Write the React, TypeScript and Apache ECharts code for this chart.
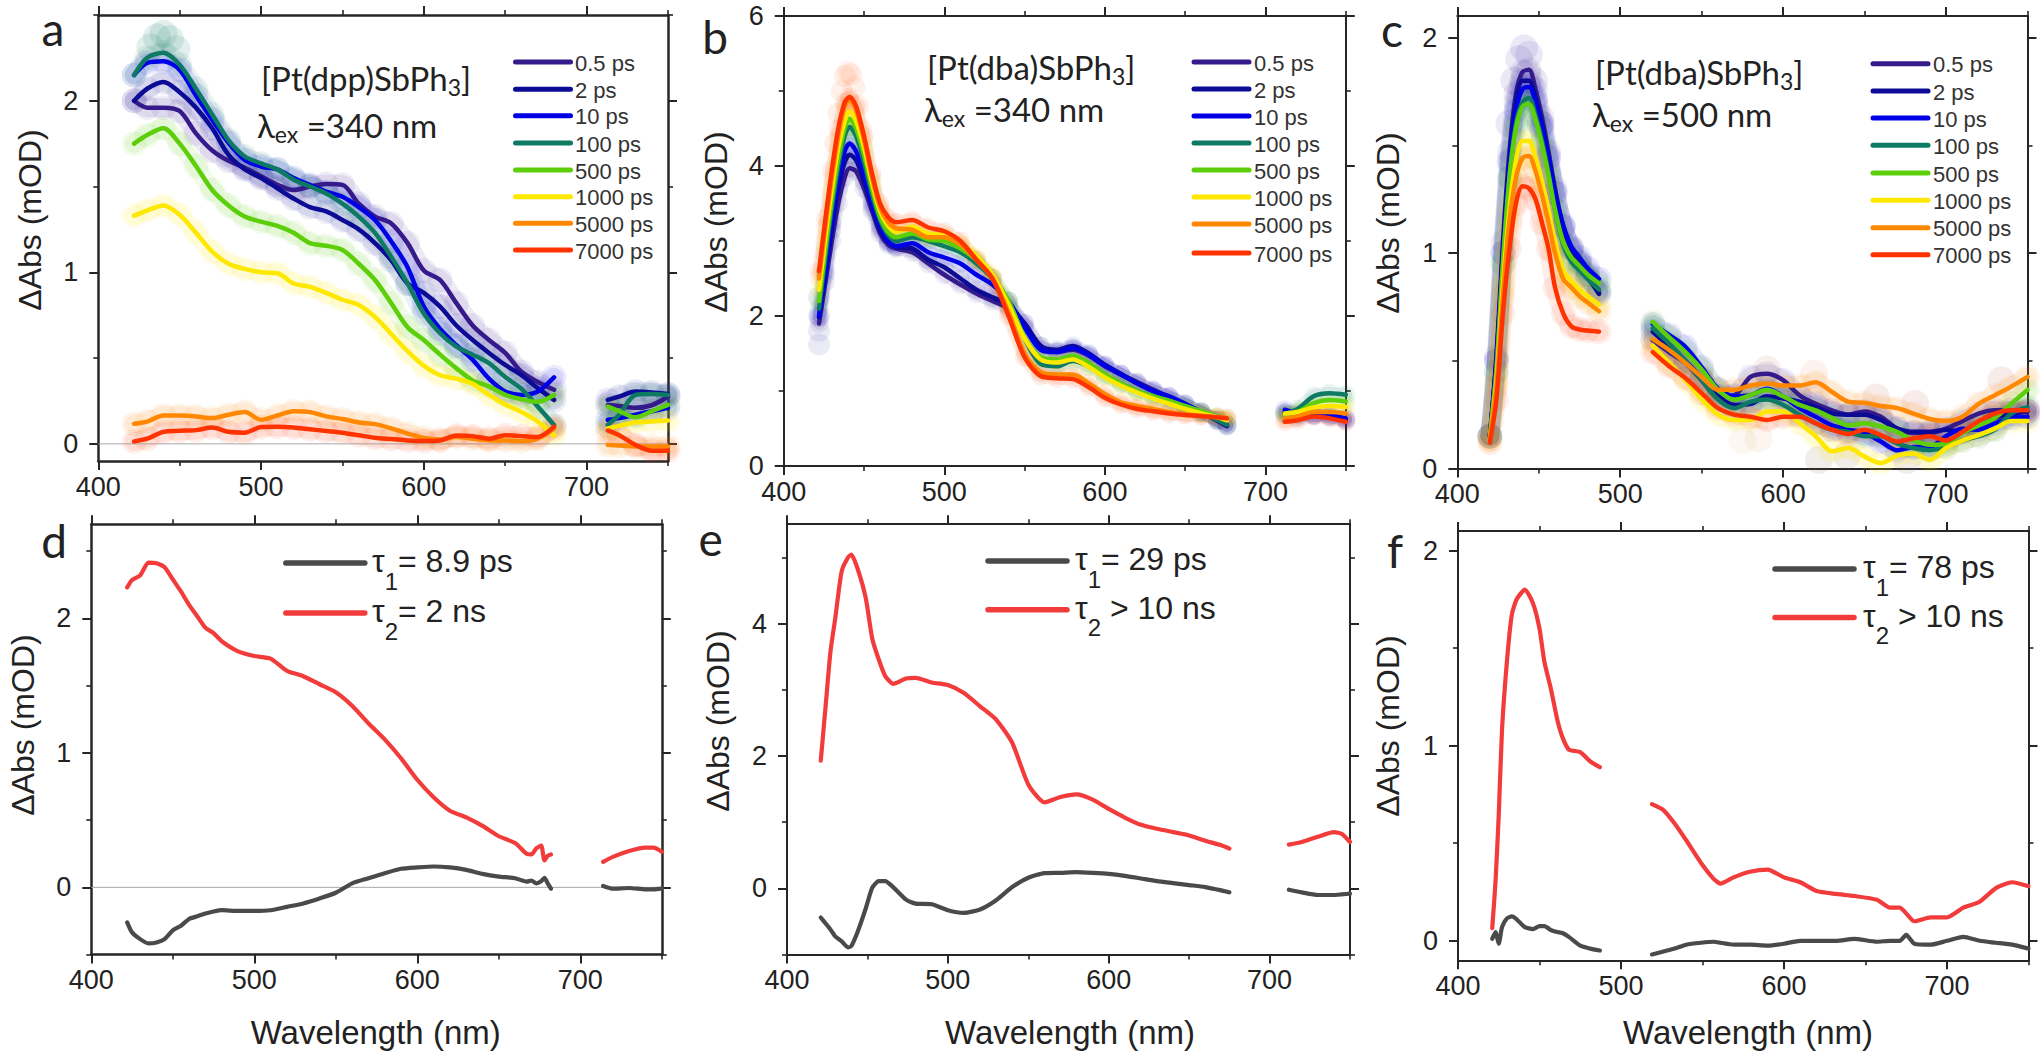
import { useEffect, useRef } from "react";
import * as echarts from "echarts";

const legendTimes = ["0.5 ps", "2 ps", "10 ps", "100 ps", "500 ps", "1000 ps", "5000 ps", "7000 ps"];
const traceColors = ["#351a8c", "#0b0b96", "#0000e6", "#0e7a63", "#5ccf0a", "#ffe800", "#ff8800", "#ff3300"];

// panel a
const aWl = [422, 430, 440, 450, 460, 470, 480, 490, 500, 510, 520, 530, 540, 550, 560, 570, 580, 590, 600, 610, 620, 630, 640, 650, 660, 670, 680, 697, 713, 720, 730, 740, 750];
const a05 = [2.0, 1.96, 1.96, 1.94, 1.81, 1.71, 1.65, 1.61, 1.56, 1.51, 1.48, 1.5, 1.515, 1.51, 1.4, 1.325, 1.285, 1.17, 1.01, 0.955, 0.82, 0.69, 0.605, 0.53, 0.42, 0.36, 0.315, null, 0.227, 0.22, 0.21, 0.225, 0.276];
const a2 = [2.0, 2.07, 2.11, 2.05, 1.96, 1.84, 1.685, 1.6, 1.55, 1.49, 1.43, 1.38, 1.355, 1.305, 1.25, 1.17, 1.07, 0.935, 0.88, 0.8, 0.69, 0.605, 0.53, 0.46, 0.4, 0.325, 0.256, null, 0.256, 0.275, 0.305, 0.3, 0.29];
const a10 = [2.15, 2.22, 2.23, 2.18, 2.03, 1.89, 1.755, 1.655, 1.617, 1.6, 1.55, 1.51, 1.47, 1.44, 1.38, 1.305, 1.18, 1.03, 0.8, 0.67, 0.575, 0.49, 0.38, 0.305, 0.285, 0.305, 0.388, null, 0.14, 0.15, 0.17, 0.19, 0.21];
const a100 = [2.15, 2.25, 2.28, 2.21, 2.07, 1.92, 1.77, 1.675, 1.635, 1.6, 1.54, 1.5, 1.46, 1.4, 1.325, 1.23, 1.09, 0.935, 0.76, 0.645, 0.567, 0.52, 0.47, 0.39, 0.32, 0.217, 0.11, null, 0.11, 0.17, 0.285, 0.29, 0.285];
const a500 = [1.75, 1.8, 1.84, 1.75, 1.62, 1.48, 1.39, 1.325, 1.295, 1.27, 1.23, 1.17, 1.155, 1.13, 1.05, 0.955, 0.82, 0.68, 0.605, 0.52, 0.44, 0.37, 0.335, 0.285, 0.26, 0.245, 0.285, null, 0.217, 0.19, 0.155, 0.19, 0.227];
const a1000 = [1.33, 1.36, 1.39, 1.335, 1.23, 1.12, 1.05, 1.02, 1.0, 0.995, 0.935, 0.915, 0.88, 0.84, 0.81, 0.74, 0.64, 0.54, 0.455, 0.4, 0.38, 0.35, 0.285, 0.23, 0.185, 0.13, 0.05, null, 0.09, 0.105, 0.124, 0.13, 0.136];
const a5000 = [0.117, 0.13, 0.165, 0.165, 0.16, 0.15, 0.17, 0.185, 0.14, 0.165, 0.19, 0.185, 0.16, 0.145, 0.125, 0.115, 0.09, 0.06, 0.035, 0.025, 0.04, 0.03, 0.02, 0.02, 0.015, 0.03, 0.09, null, -0.006, -0.01, -0.015, -0.015, -0.015];
const a7000 = [0.014, 0.03, 0.07, 0.076, 0.08, 0.095, 0.07, 0.065, 0.098, 0.1, 0.095, 0.085, 0.075, 0.065, 0.05, 0.035, 0.028, 0.02, 0.016, 0.02, 0.048, 0.045, 0.03, 0.05, 0.045, 0.04, 0.1, null, 0.078, 0.05, -0.006, -0.04, -0.04];
const aHaloX = [432, 436, 440, 444, 448];
const aHaloY = [2.31, 2.37, 2.39, 2.36, 2.3];
const aHaloColors = ["#0e7a63", "#0e7a63", "#0e7a63", "#0e7a63", "#0e7a63"];

// panel b
const bWl = [422, 426, 430, 434, 438, 441, 445, 450, 455, 460, 465, 470, 480, 490, 500, 510, 520, 530, 540, 550, 560, 570, 580, 590, 600, 610, 620, 630, 640, 650, 660, 670, 676, 694, 712, 720, 730, 740, 750];
const b05 = [1.9, 2.45, 3.0, 3.5, 3.85, 3.97, 3.93, 3.7, 3.4, 3.1, 2.95, 2.9, 2.85, 2.7, 2.55, 2.42, 2.3, 2.2, 2.1, 1.9, 1.6, 1.52, 1.55, 1.47, 1.33, 1.22, 1.12, 1.02, 0.92, 0.82, 0.72, 0.6, 0.53, null, 0.7, 0.65, 0.67, 0.66, 0.6];
const b2 = [1.98, 2.55, 3.15, 3.7, 4.05, 4.15, 4.08, 3.8, 3.45, 3.15, 2.98, 2.92, 2.9, 2.75, 2.65, 2.5, 2.35, 2.25, 2.15, 1.9, 1.6, 1.55, 1.6, 1.5, 1.35, 1.23, 1.11, 1.0, 0.92, 0.82, 0.72, 0.61, 0.54, null, 0.72, 0.68, 0.68, 0.66, 0.62];
const b10 = [2.0, 2.6, 3.25, 3.8, 4.2, 4.3, 4.2, 3.9, 3.5, 3.2, 3.0, 2.93, 2.97, 2.85, 2.78, 2.7, 2.55, 2.42, 2.2, 1.85, 1.55, 1.52, 1.57, 1.48, 1.34, 1.22, 1.1, 1.0, 0.93, 0.83, 0.72, 0.62, 0.55, null, 0.75, 0.7, 0.68, 0.68, 0.63];
const b100 = [2.1, 2.8, 3.45, 4.0, 4.4, 4.52, 4.4, 4.05, 3.62, 3.28, 3.08, 3.0, 3.05, 3.0, 2.93, 2.85, 2.7, 2.5, 2.2, 1.7, 1.36, 1.33, 1.4, 1.33, 1.2, 1.1, 1.0, 0.93, 0.86, 0.78, 0.7, 0.61, 0.55, null, 0.69, 0.76, 0.93, 0.97, 0.95];
const b500 = [2.2, 2.9, 3.55, 4.1, 4.5, 4.63, 4.5, 4.15, 3.7, 3.32, 3.12, 3.05, 3.1, 3.02, 3.0, 2.9, 2.75, 2.52, 2.2, 1.72, 1.45, 1.42, 1.47, 1.37, 1.22, 1.1, 1.0, 0.93, 0.87, 0.8, 0.73, 0.66, 0.62, null, 0.68, 0.72, 0.84, 0.88, 0.86];
const b1000 = [2.35, 3.05, 3.7, 4.25, 4.6, 4.73, 4.6, 4.25, 3.78, 3.4, 3.2, 3.12, 3.19, 3.1, 3.08, 2.98, 2.8, 2.55, 2.15, 1.7, 1.42, 1.38, 1.42, 1.32, 1.18, 1.07, 0.98, 0.9, 0.83, 0.76, 0.7, 0.65, 0.61, null, 0.7, 0.72, 0.78, 0.8, 0.79];
const b5000 = [2.5, 3.2, 3.85, 4.4, 4.8, 4.88, 4.75, 4.35, 3.85, 3.45, 3.25, 3.17, 3.15, 3.05, 3.05, 2.95, 2.75, 2.5, 2.05, 1.5, 1.25, 1.22, 1.22, 1.1, 0.96, 0.85, 0.8, 0.76, 0.72, 0.69, 0.67, 0.65, 0.64, null, 0.63, 0.66, 0.72, 0.72, 0.7];
const b7000 = [2.6, 3.3, 3.95, 4.5, 4.85, 4.92, 4.8, 4.4, 3.9, 3.5, 3.32, 3.25, 3.28, 3.18, 3.13, 3.0, 2.75, 2.5, 2.0, 1.45, 1.2, 1.17, 1.16, 1.05, 0.91, 0.82, 0.76, 0.73, 0.7, 0.68, 0.665, 0.65, 0.635, null, 0.59, 0.61, 0.66, 0.635, 0.59];
const bHaloX = [432, 434, 436, 438, 440, 442, 444, 446, 448, 422, 422, 422, 422];
const bHaloY = [4.3, 4.7, 5.0, 5.2, 5.25, 5.22, 5.05, 4.8, 4.5, 1.62, 1.8, 2.0, 2.25];
const bHaloColors = ["#ff8c50", "#ff8c50", "#ff8c50", "#ff8c50", "#ff8c50", "#ff8c50", "#ff8c50", "#ff8c50", "#ff8c50", "#5a5ab5", "#5a5ab5", "#5a5ab5", "#5a5ab5"];

// panel c
const cWl = [420, 424, 428, 432, 436, 440, 444, 448, 452, 456, 460, 465, 470, 475, 480, 487, 503, 520, 530, 540, 550, 560, 570, 580, 590, 600, 610, 620, 630, 640, 650, 660, 670, 680, 690, 700, 710, 720, 730, 740, 750];
const c05 = [0.15, 0.52, 1.05, 1.47, 1.74, 1.84, 1.85, 1.76, 1.63, 1.47, 1.3, 1.12, 1.02, 0.96, 0.9, 0.82, null, 0.595, 0.54, 0.49, 0.41, 0.335, 0.34, 0.425, 0.44, 0.41, 0.34, 0.3, 0.27, 0.25, 0.265, 0.24, 0.185, 0.165, 0.165, 0.185, 0.22, 0.255, 0.27, 0.27, 0.265];
const c2 = [0.15, 0.5, 1.0, 1.43, 1.7, 1.8, 1.8, 1.72, 1.6, 1.45, 1.28, 1.12, 1.02, 0.95, 0.89, 0.81, null, 0.635, 0.565, 0.5, 0.42, 0.335, 0.295, 0.3, 0.335, 0.325, 0.31, 0.285, 0.255, 0.25, 0.25, 0.225, 0.185, 0.17, 0.17, 0.18, 0.17, 0.2, 0.235, 0.255, 0.265];
const c10 = [0.15, 0.5, 1.0, 1.42, 1.66, 1.76, 1.77, 1.7, 1.58, 1.44, 1.28, 1.13, 1.03, 0.98, 0.93, 0.88, null, 0.67, 0.62, 0.565, 0.47, 0.37, 0.335, 0.34, 0.37, 0.335, 0.28, 0.24, 0.2, 0.18, 0.165, 0.125, 0.085, 0.1, 0.1, 0.15, 0.185, 0.18, 0.21, 0.235, 0.24];
const c100 = [0.15, 0.45, 0.95, 1.35, 1.6, 1.7, 1.72, 1.64, 1.52, 1.37, 1.2, 1.04, 0.96, 0.92, 0.88, 0.83, null, 0.65, 0.58, 0.5, 0.41, 0.32, 0.28, 0.31, 0.32, 0.295, 0.25, 0.21, 0.18, 0.17, 0.15, 0.15, 0.115, 0.095, 0.085, 0.1, 0.13, 0.15, 0.18, 0.255, 0.285];
const c500 = [0.15, 0.45, 0.95, 1.35, 1.58, 1.68, 1.69, 1.62, 1.5, 1.36, 1.2, 1.05, 0.98, 0.94, 0.9, 0.86, null, 0.68, 0.61, 0.54, 0.46, 0.365, 0.32, 0.34, 0.365, 0.335, 0.295, 0.27, 0.235, 0.2, 0.21, 0.195, 0.17, 0.13, 0.11, 0.115, 0.165, 0.2, 0.235, 0.3, 0.365];
const c1000 = [0.13, 0.4, 0.85, 1.2, 1.43, 1.52, 1.52, 1.44, 1.33, 1.2, 1.05, 0.92, 0.87, 0.83, 0.8, 0.76, null, 0.57, 0.49, 0.41, 0.32, 0.25, 0.225, 0.225, 0.265, 0.265, 0.21, 0.15, 0.08, 0.095, 0.055, 0.025, 0.06, 0.07, 0.04, 0.095, 0.13, 0.155, 0.185, 0.22, 0.22];
const c5000 = [0.14, 0.38, 0.8, 1.15, 1.35, 1.44, 1.45, 1.38, 1.27, 1.14, 1.0, 0.88, 0.84, 0.8, 0.77, 0.73, null, 0.6, 0.55, 0.49, 0.425, 0.365, 0.365, 0.385, 0.395, 0.385, 0.385, 0.4, 0.355, 0.31, 0.305, 0.29, 0.28, 0.255, 0.23, 0.22, 0.24, 0.3, 0.34, 0.38, 0.425];
const c7000 = [0.12, 0.32, 0.72, 1.02, 1.23, 1.31, 1.3, 1.25, 1.14, 1.02, 0.84, 0.72, 0.66, 0.645, 0.64, 0.635, null, 0.54, 0.475, 0.42, 0.35, 0.28, 0.25, 0.24, 0.225, 0.24, 0.24, 0.21, 0.18, 0.16, 0.18, 0.155, 0.125, 0.14, 0.15, 0.13, 0.17, 0.22, 0.255, 0.27, 0.27];
const cHaloX = [432, 435, 438, 441, 444, 447, 451, 590, 619, 620, 657, 681, 734, 622, 639, 676, 585, 575];
const cHaloY = [1.6, 1.8, 1.9, 1.95, 1.92, 1.8, 1.6, 0.46, 0.44, 0.33, 0.33, 0.3, 0.41, 0.04, 0.06, 0.04, 0.14, 0.13];
const cHaloColors = ["#5a4ab5", "#5a4ab5", "#5a4ab5", "#5a4ab5", "#5a4ab5", "#5a4ab5", "#5a4ab5", "#c9805a", "#e8a070", "#c9605a", "#c9605a", "#c9605a", "#c9605a", "#8a6a5a", "#8a6a5a", "#8a6a5a", "#e8b080", "#e8c080"];

// panels d, e, f: decay associated spectra
const dWl = [422, 425, 430, 435, 440, 445, 450, 455, 460, 465, 470, 475, 480, 490, 500, 510, 520, 530, 540, 550, 560, 570, 580, 590, 600, 610, 620, 630, 640, 650, 660, 667, 670, 673, 676, 678, 680, 682, 698, 714, 720, 730, 740, 745, 750];
const dTau1 = [-0.26, -0.335, -0.385, -0.417, -0.41, -0.385, -0.32, -0.285, -0.235, -0.215, -0.195, -0.18, -0.17, -0.175, -0.175, -0.17, -0.145, -0.12, -0.083, -0.04, 0.03, 0.068, 0.105, 0.138, 0.148, 0.155, 0.148, 0.13, 0.1, 0.08, 0.068, 0.043, 0.05, 0.03, 0.045, 0.07, 0.03, -0.01, null, 0.01, -0.01, -0.005, -0.015, -0.015, -0.01];
const dTau2 = [2.23, 2.285, 2.32, 2.415, 2.41, 2.38, 2.29, 2.2, 2.1, 2.015, 1.93, 1.89, 1.83, 1.755, 1.72, 1.7, 1.61, 1.57, 1.51, 1.45, 1.35, 1.22, 1.1, 0.96, 0.8, 0.67, 0.57, 0.52, 0.457, 0.38, 0.33, 0.25, 0.245, 0.29, 0.31, 0.2, 0.235, 0.245, null, 0.19, 0.227, 0.27, 0.295, 0.295, 0.265];

const eWl = [421, 424, 427, 430, 434, 438, 440, 444, 449, 453, 457, 461, 466, 474, 480, 490, 500, 510, 520, 530, 540, 550, 560, 570, 580, 590, 600, 610, 620, 630, 640, 650, 660, 670, 675, 694, 712, 720, 730, 740, 745, 750];
const eTau1 = [-0.44, -0.53, -0.62, -0.725, -0.8, -0.89, -0.87, -0.65, -0.3, 0.01, 0.11, 0.11, 0.02, -0.17, -0.23, -0.24, -0.33, -0.37, -0.32, -0.18, 0.02, 0.16, 0.23, 0.235, 0.245, 0.235, 0.22, 0.19, 0.15, 0.11, 0.08, 0.05, 0.02, -0.03, -0.06, null, -0.02, -0.06, -0.1, -0.1, -0.09, -0.08];
const eTau2 = [1.93, 2.75, 3.57, 4.08, 4.79, 5.0, 5.04, 4.82, 4.38, 3.77, 3.46, 3.21, 3.09, 3.17, 3.18, 3.11, 3.07, 2.95, 2.75, 2.55, 2.2, 1.57, 1.3, 1.38, 1.42, 1.34, 1.2, 1.07, 0.96, 0.9, 0.85, 0.8, 0.72, 0.65, 0.6, null, 0.66, 0.7, 0.78, 0.85, 0.82, 0.7];

const fWl = [421, 423, 425, 427, 430, 433, 436, 441, 446, 450, 453, 457, 461, 464, 468, 475, 481, 487, 503, 519, 526, 533, 540, 549, 557, 561, 569, 579, 590, 600, 610, 620, 632, 643, 657, 665, 671, 675, 680, 690, 700, 710, 720, 730, 740, 750];
const fTau1 = [0.01, 0.045, -0.015, 0.07, 0.115, 0.125, 0.11, 0.07, 0.06, 0.075, 0.075, 0.055, 0.045, 0.04, 0.02, -0.025, -0.04, -0.05, null, -0.07, -0.055, -0.04, -0.02, -0.01, -0.005, -0.01, -0.02, -0.02, -0.025, -0.015, 0, 0, 0, 0.01, -0.005, 0, 0, 0.03, -0.015, -0.02, 0, 0.02, 0, -0.01, -0.02, -0.04];
const fTau2 = [0.065, 0.3, 0.645, 1.08, 1.43, 1.67, 1.75, 1.8, 1.73, 1.6, 1.43, 1.29, 1.13, 1.045, 0.98, 0.967, 0.92, 0.89, null, 0.7, 0.67, 0.6, 0.515, 0.4, 0.316, 0.293, 0.325, 0.354, 0.365, 0.325, 0.3, 0.255, 0.24, 0.23, 0.21, 0.17, 0.17, 0.14, 0.1, 0.12, 0.12, 0.17, 0.2, 0.27, 0.3, 0.28];

const xMajor = [400, 500, 600, 700];
const xMinor = [450, 550, 650, 750];
const zeroLineX = [400, 750];

const panels = [
  { left: 98.3, right: 668, top: 15, bottom: 461, min: -0.1, max: 2.5, major: [0, 1, 2], minor: [0.5, 1.5, 2.5], axisWidth: 2.5, wl: aWl, traces: [a05, a2, a10, a100, a500, a1000, a5000, a7000], zero: true, dot: 25, haloX: aHaloX, haloY: aHaloY, haloColors: aHaloColors },
  { left: 783.7, right: 1345.8, top: 16, bottom: 466, min: 0, max: 6, major: [0, 2, 4, 6], minor: [1, 3, 5], axisWidth: 2, wl: bWl, traces: [b05, b2, b10, b100, b500, b1000, b5000, b7000], dot: 19, haloX: bHaloX, haloY: bHaloY, haloColors: bHaloColors },
  { left: 1457.3, right: 2027.5, top: 16, bottom: 468.5, min: 0, max: 2.1, major: [0, 1, 2], minor: [0.5, 1.5], axisWidth: 2, wl: cWl, traces: [c05, c2, c10, c100, c500, c1000, c5000, c7000], dot: 25, haloX: cHaloX, haloY: cHaloY, haloColors: cHaloColors },
  { left: 91.3, right: 661.8, top: 524.2, bottom: 954.6, min: -0.5, max: 2.7, major: [0, 1, 2], minor: [-0.5, 0.5, 1.5, 2.5], axisWidth: 2.5, wl: dWl, tau: [dTau1, dTau2], zero: true },
  { left: 787, right: 1350, top: 524.2, bottom: 954.6, min: -1, max: 5.5, major: [0, 2, 4], minor: [-1, 1, 3, 5], axisWidth: 2, wl: eWl, tau: [eTau1, eTau2] },
  { left: 1458, right: 2028.5, top: 531, bottom: 960.3, min: -0.1, max: 2.1, major: [0, 1, 2], minor: [0.5, 1.5], axisWidth: 2, wl: fWl, tau: [fTau1, fTau2] },
];

const FRAME = "#262626";
const SANS = "Liberation Sans";
const CAL = "Lato";

function tickAxes(panel: any, gridIndex: number, dim: "x" | "y", major: boolean) {
  const values = dim === "x" ? (major ? xMajor : xMinor) : major ? panel.major : panel.minor;
  const sides = dim === "x" ? ["bottom", "top"] : ["left", "right"];
  return sides.map((position, side) => ({
    type: "value",
    gridIndex,
    position,
    min: dim === "x" ? 400 : panel.min,
    max: dim === "x" ? 750 : panel.max,
    splitLine: { show: false },
    axisLine: { show: major, onZero: false, lineStyle: { color: FRAME, width: panel.axisWidth } },
    axisTick: {
      show: true,
      customValues: values,
      length: major ? 9 : 5,
      lineStyle: { color: FRAME, width: major ? 2 : 1.6 },
    },
    axisLabel: {
      show: major && side === 0,
      customValues: values,
      margin: dim === "x" ? 12 : 20,
      alignMinLabel: dim === "x" ? "center" : undefined,
      fontFamily: SANS,
      fontSize: 27,
      color: "#222",
    },
  }));
}

function buildSeries(panel: any, index: number) {
  const xAxisIndex = index * 4;
  const yAxisIndex = index * 4;
  const points = (values: (number | null)[]) => values.map((v, i) => [panel.wl[i], v]);
  const series: any[] = [];
  if (panel.zero) {
    series.push({
      type: "line", xAxisIndex, yAxisIndex, silent: true, showSymbol: false,
      data: zeroLineX.map((x) => [x, 0]),
      lineStyle: { color: "#a8a8a8", width: 1 },
    });
  }
  if (panel.traces) {
    // the raw points sit behind the smoothed traces as pale blobs
    series.push({
      type: "scatter", xAxisIndex, yAxisIndex, silent: true, symbolSize: panel.dot + 3,
      data: panel.haloX.map((x: number, i: number) => ({
        value: [x, panel.haloY[i]],
        itemStyle: { color: panel.haloColors[i], opacity: 0.12 },
      })),
    });
    panel.traces.forEach((values: (number | null)[], i: number) => {
      series.push({
        type: "line", xAxisIndex, yAxisIndex, silent: true, showSymbol: false, smooth: 0.3,
        data: points(values),
        lineStyle: { color: traceColors[i], width: panel.dot - 6, opacity: 0.09, cap: "round", join: "round" },
      });
      series.push({
        type: "scatter", xAxisIndex, yAxisIndex, silent: true, symbolSize: panel.dot,
        data: points(values).filter((p) => p[1] !== null),
        itemStyle: { color: traceColors[i], opacity: 0.08 },
      });
    });
    panel.traces.forEach((values: (number | null)[], i: number) => {
      series.push({
        name: legendTimes[i],
        type: "line", xAxisIndex, yAxisIndex, silent: true, showSymbol: false, smooth: 0.3,
        data: points(values),
        lineStyle: { color: traceColors[i], width: 4.5, cap: "round", join: "round" },
      });
    });
  }
  if (panel.tau) {
    panel.tau.forEach((values: (number | null)[], i: number) => {
      series.push({
        type: "line", xAxisIndex, yAxisIndex, silent: true, showSymbol: false, smooth: 0.2,
        data: points(values),
        lineStyle: { color: i === 0 ? "#4a4a4a" : "#f23c3c", width: 4.2, cap: "round", join: "round" },
      });
    });
  }
  return series;
}

function label(text: string, x: number, y: number, fontSize: number, fontFamily = SANS, extra: any = {}) {
  return {
    type: "text", x, y, silent: true, z: 20,
    style: { text, fontSize, fontFamily, fill: "#222", verticalAlign: "middle", align: "center", ...extra },
  };
}

function subscripted(parts: string, x: number, y: number, fontSize: number, subSize: number, fontFamily: string, lineRatio: number) {
  return {
    type: "text", x, y, silent: true, z: 20,
    style: {
      text: parts,
      fill: "#222",
      align: "left",
      verticalAlign: "middle",
      rich: {
        m: { fontSize, fontFamily, fill: "#222", lineHeight: fontSize * lineRatio, verticalAlign: "top" },
        s: { fontSize: subSize, fontFamily, fill: "#222", lineHeight: subSize, verticalAlign: "bottom" },
      },
    },
  };
}

const legendRows = [
  { lineX: 515.5, textX: 575, ys: [62, 89.3, 115.7, 143, 170, 196.7, 223.3, 250] },
  { lineX: 1194, textX: 1254, ys: [62, 89, 116, 143, 170, 197, 224, 253] },
  { lineX: 1873, textX: 1933, ys: [63.7, 91, 118, 145.3, 173, 200.3, 227.7, 254.7] },
];

const tauLegends = [
  { lineX: 285.8, textX: 372, ys: [563, 613], labels: ["{m|τ}{s|1}{m|= 8.9 ps}", "{m|τ}{s|2}{m|= 2 ns}"] },
  { lineX: 988, textX: 1075, ys: [561, 609.7], labels: ["{m|τ}{s|1}{m|= 29 ps}", "{m|τ}{s|2}{m| > 10 ns}"] },
  { lineX: 1775, textX: 1863, ys: [569, 617.5], labels: ["{m|τ}{s|1}{m|= 78 ps}", "{m|τ}{s|2}{m| > 10 ns}"] },
];

const annotations: [string, number, number][] = [
  ["{m|[Pt(dpp)SbPh}{s|3}{m|]}", 261, 80],
  ["{m|λ}{s|ex}{m| =340 nm}", 257, 127],
  ["{m|[Pt(dba)SbPh}{s|3}{m|]}", 927, 69],
  ["{m|λ}{s|ex}{m| =340 nm}", 924, 111],
  ["{m|[Pt(dba)SbPh}{s|3}{m|]}", 1595, 74],
  ["{m|λ}{s|ex}{m| =500 nm}", 1592, 116],
];

const panelLetters: [string, number, number][] = [
  ["a", 53, 28], ["b", 715, 36], ["c", 1392, 29],
  ["d", 54, 540], ["e", 710.7, 538], ["f", 1395, 550],
];

const yNames = [
  [30, 220, 32], [716, 222, 32], [1388, 223, 32],
  [23, 725, 32], [717.5, 721, 32], [1388, 726, 32],
];
const xNames = [[375.7, 1032], [1070, 1032], [1748, 1032]];

function buildGraphics() {
  const out: any[] = [];
  legendRows.forEach((row) => {
    legendTimes.forEach((time, i) => {
      out.push({
        type: "line", silent: true, z: 20,
        shape: { x1: row.lineX, y1: row.ys[i], x2: row.lineX + 55, y2: row.ys[i] },
        style: { stroke: traceColors[i], lineWidth: 5, lineCap: "round" },
      });
      out.push(label(time, row.textX, row.ys[i] + 1, 22, SANS, { align: "left", fill: "#333" }));
    });
  });
  tauLegends.forEach((row) => {
    row.ys.forEach((y, i) => {
      out.push({
        type: "line", silent: true, z: 20,
        shape: { x1: row.lineX, y1: y, x2: row.lineX + 79, y2: y },
        style: { stroke: i === 0 ? "#4a4a4a" : "#f23c3c", lineWidth: 5.5, lineCap: "round" },
      });
      out.push(subscripted(row.labels[i], row.textX, y + 6, 32, 24, SANS, 1.5));
    });
  });
  annotations.forEach(([text, x, y]) => {
    out.push(subscripted(text, x, y, 33, 23, CAL, 1.1));
  });
  panelLetters.forEach(([text, x, y]) => {
    out.push(label(text, x, y, 46, CAL));
  });
  yNames.forEach(([x, y, size]) => {
    out.push({ ...label("ΔAbs (mOD)", 0, 0, size), x, y, rotation: Math.PI / 2 });
  });
  xNames.forEach(([x, y]) => {
    out.push(label("Wavelength (nm)", x, y, 33));
  });
  return out;
}

export default function App() {
  const reference = useRef<HTMLDivElement>(null);
  useEffect(() => {
    const element = reference.current;
    if (element === null) return;
    const chart = echarts.init(element, undefined, { renderer: "svg" });
    const grids: any[] = [];
    const xAxes: any[] = [];
    const yAxes: any[] = [];
    panels.forEach((panel, index) => {
      const rect = {
        left: panel.left,
        top: panel.top,
        width: panel.right - panel.left,
        height: panel.bottom - panel.top,
      };
      // one grid holds the long ticks and the data, its twin the short ticks
      grids.push(rect, rect);
      xAxes.push(...tickAxes(panel, index * 2, "x", true), ...tickAxes(panel, index * 2 + 1, "x", false));
      yAxes.push(...tickAxes(panel, index * 2, "y", true), ...tickAxes(panel, index * 2 + 1, "y", false));
    });
    chart.setOption({
      animation: false,
      backgroundColor: "#ffffff",
      grid: grids,
      xAxis: xAxes,
      yAxis: yAxes,
      series: panels.flatMap(buildSeries),
      graphic: buildGraphics(),
    });
    return () => chart.dispose();
  }, []);
  return (
    <div
      ref={reference}
      style={{ position: "absolute", left: 0, top: 0, width: 2042, height: 1052, background: "#fff" }}
    />
  );
}
